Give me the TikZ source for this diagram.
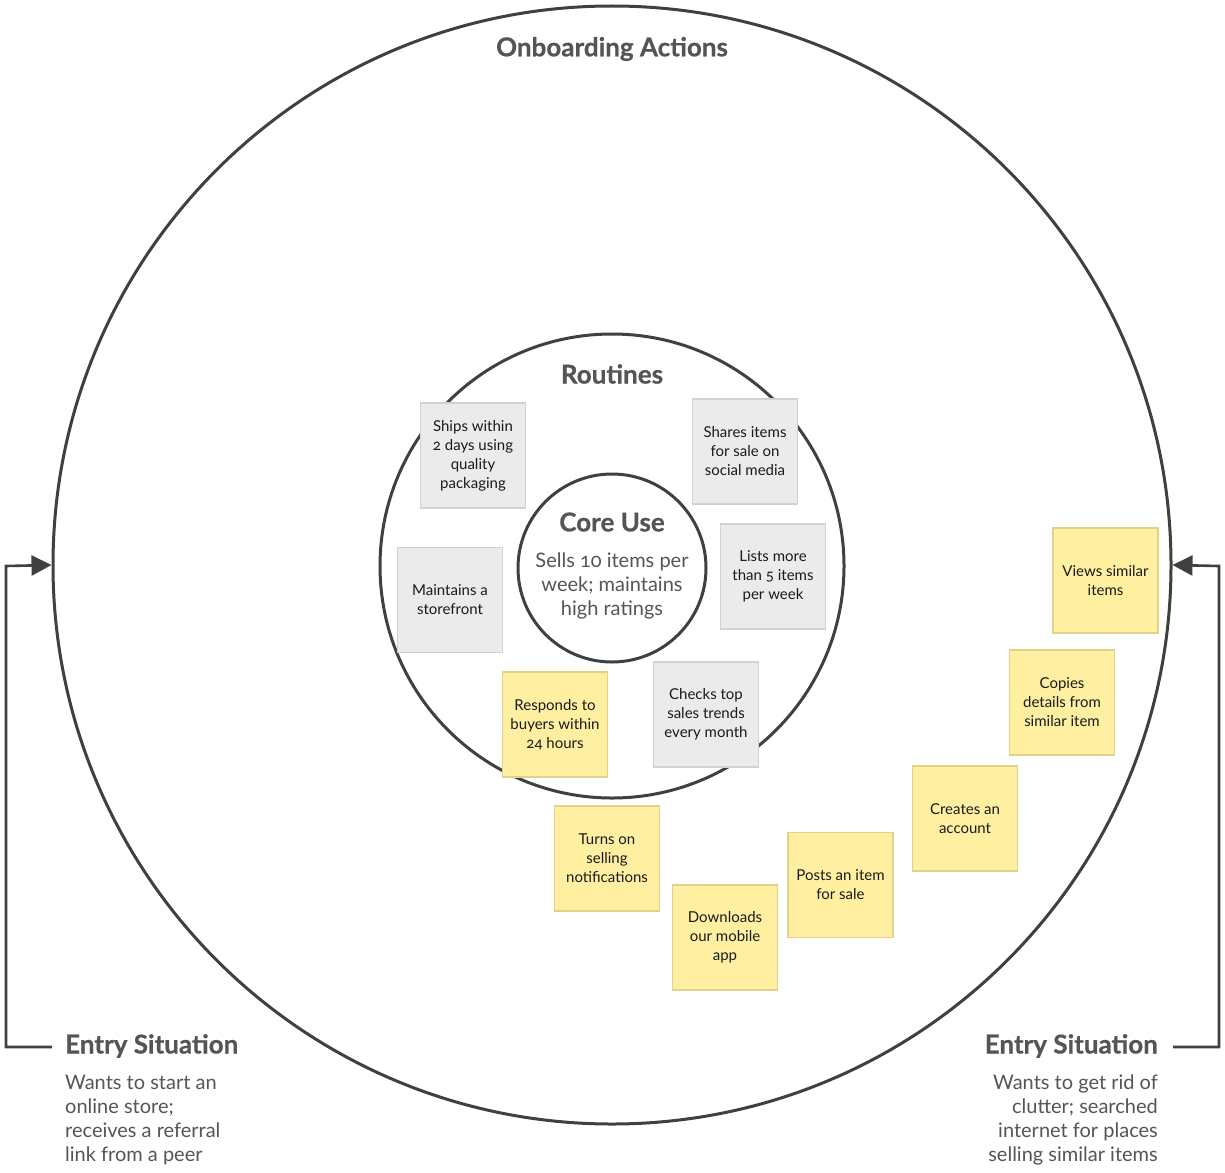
\documentclass[tikz,border=0pt]{standalone}
\usepackage{fontspec}
\setmainfont{Lato}[Numbers=OldStyle]
\newfontfamily\headfont{Lato}[Numbers=OldStyle, BoldFeatures={FakeBold=0.6}]
\usetikzlibrary{arrows.meta}
\definecolor{ink}{HTML}{404040}
\definecolor{head}{HTML}{555555}
\definecolor{boxtext}{HTML}{1A1A1A}
\definecolor{yfill}{HTML}{FEF0A0}
\definecolor{yline}{HTML}{E0D28A}
\definecolor{gfill}{HTML}{EBEBEB}
\definecolor{gline}{HTML}{D2D2D2}
\tikzset{
  ring/.style={circle, draw=ink, line width=3pt, inner sep=0pt},
  card/.style={minimum width=105pt, minimum height=105pt, inner sep=0pt, align=center,
    line width=1.2pt, text=boxtext, font=\fontsize{15}{19}\selectfont},
  graycard/.style={card, fill=gfill, draw=gline},
  yelcard/.style={card, fill=yfill, draw=yline},
  title/.style={text=head, font=\headfont\fontsize{26}{30}\selectfont\bfseries, inner sep=0pt},
  desc/.style={text=head, font=\fontsize{20}{24}\selectfont, inner sep=0pt},
  entryline/.style={draw=ink, line width=2.6pt, -{Triangle[length=20pt,width=20pt]}},
}
\begin{document}
\begin{tikzpicture}[x=1pt,y=-1pt]
\useasboundingbox[fill=white] (0,0) rectangle (1225,1172);
% circles
\node[ring, minimum size=1118pt] (outer) at (612,565) {};
\node[ring, minimum size=464pt] (middle) at (612,566) {};
% cards
\node[graycard] (ships) at (473,455.5) {Ships within\\2 days using\\quality\\packaging};
\node[graycard] (shares) at (745,451.5) {Shares items\\for sale on\\social media};
\node[graycard] (maint) at (450,600) {Maintains a\\storefront};
\node[graycard] (lists) at (773,576.5) {Lists more\\than 5 items\\per week};
\node[yelcard] (resp) at (555,724.5) {Responds to\\buyers within\\24 hours};
\node[graycard] (checks) at (706,714.5) {Checks top\\sales trends\\every month};
\node[yelcard] (turns) at (607,858.5) {Turns on\\selling\\notifications};
\node[yelcard] (down) at (725,937.5) {Downloads\\our mobile\\app};
\node[yelcard] (posts) at (840.5,885) {Posts an item\\for sale};
\node[yelcard] (creates) at (965,818.5) {Creates an\\account};
\node[yelcard] (copies) at (1062,702.5) {Copies\\details from\\similar item};
\node[yelcard] (views) at (1105.5,580.5) {Views similar\\items};
% core circle
\node[ring, fill=white, minimum size=188pt] (core) at (612,568) {};
% titles
\node[title] (tonb) at (612,49) {Onboarding Actions};
\node[title] (trout) at (612,374) {Routines};
\node[title] (tcore) at (612,522) {Core Use};
\node[desc, align=center] (coretext) at (612,586) {Sells 10 items per\\week; maintains\\high ratings};
% entry situations
\node[title, anchor=west] (entL) at (65,1046) {Entry Situation};
\node[desc, anchor=north west, align=left] (descL) at (65,1075) {Wants to start an\\online store;\\receives a referral\\link from a peer};
\node[title, anchor=east] (entR) at (1158,1046) {Entry Situation};
\node[desc, anchor=north east, align=right] (descR) at (1158,1075) {Wants to get rid of\\clutter; searched\\internet for places\\selling similar items};
% connectors
\coordinate (lA) at (52,1047);
\coordinate (lB) at (6,1047);
\coordinate (lC) at (6,566);
\coordinate (rA) at (1173,1047);
\coordinate (rB) at (1219,1047);
\coordinate (rC) at (1219,566);
\draw[entryline] (lA) -- (lB) -- (lC) -- (outer.west);
\draw[entryline] (rA) -- (rB) -- (rC) -- (outer.east);
\end{tikzpicture}
\end{document}
